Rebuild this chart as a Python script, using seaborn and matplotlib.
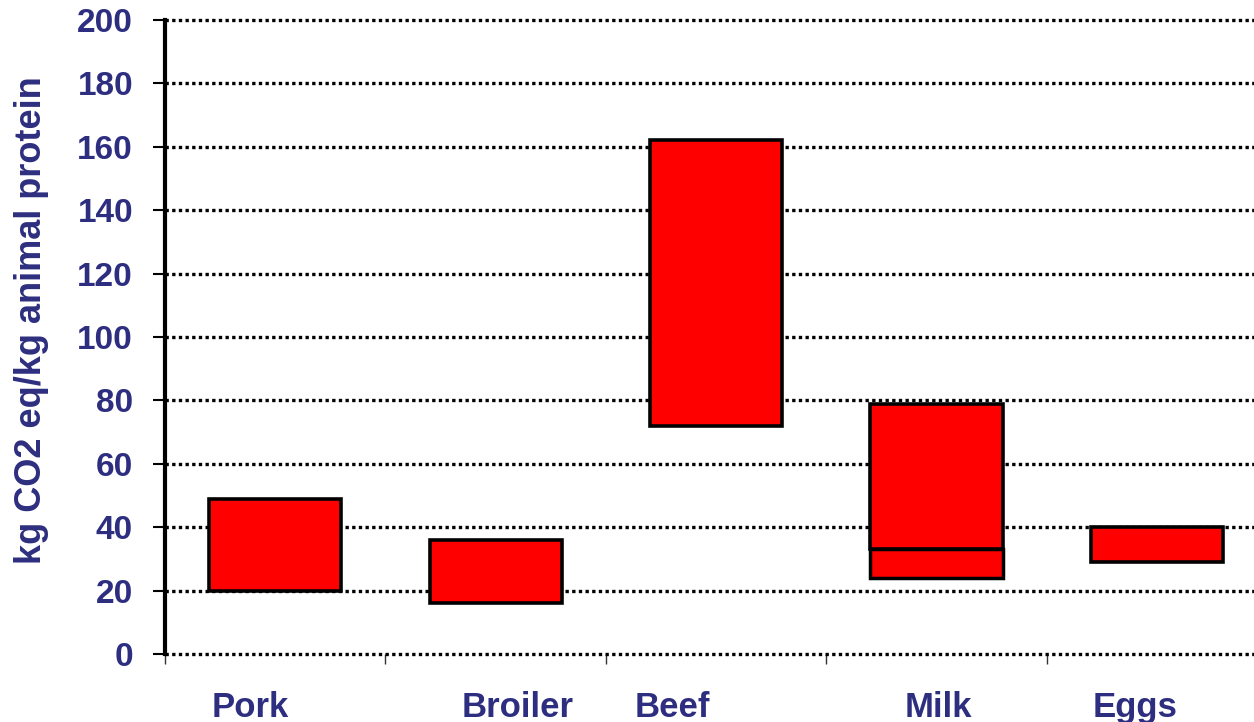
import matplotlib
matplotlib.use("Agg")
import matplotlib.pyplot as plt
import seaborn as sns

# data
categories = ["Pork", "Broiler", "Beef", "Milk", "Eggs"]
low = [20, 16, 72, 33, 29]
high = [49, 36, 162, 79, 40]
milk_low = [24]
milk_high = [33]
yticks = list(range(0, 201, 20))
label_pos = [-0.115, 1.10, 1.80, 3.01, 3.90]

navy = "#2E2E80"

sns.set_theme(style="white")
plt.rcParams['font.family'] = ['Liberation Sans', 'DejaVu Sans']

fig = plt.figure(figsize=(12.54, 7.22), dpi=100)
ax = fig.add_axes([0.1316, 0.0942, 0.8684, 0.8781])

# lower part of the milk range first, then the main ranges on top
sns.barplot(x=["Milk"], y=[h - l for l, h in zip(milk_low, milk_high)], bottom=milk_low,
            order=categories, color="#FF0000", saturation=1, width=0.6,
            edgecolor="black", linewidth=2.5, errorbar=None, ax=ax, zorder=2)
sns.barplot(x=categories, y=[h - l for l, h in zip(low, high)], bottom=low,
            order=categories, color="#FF0000", saturation=1, width=0.6,
            edgecolor="black", linewidth=2.6, errorbar=None, ax=ax, zorder=3)

ax.set_xlim(-0.5, 4.44)
ax.set_ylim(0, 200)
ax.set_yticks(yticks)
ax.set_yticklabels([str(v) for v in yticks], fontsize=24, fontweight="bold", color=navy)

ax.set_xticks(label_pos)
ax.set_xticklabels(categories, fontsize=25, fontweight="bold", color=navy)
ax.set_xticks([-0.5, 0.5, 1.5, 2.5, 3.5], minor=True)
ax.tick_params(axis="x", which="major", length=0, pad=27)
ax.tick_params(axis="x", which="minor", length=7, width=1, color="#333333", direction="out", bottom=True)
ax.tick_params(axis="y", which="major", length=9, width=1.5, color="black", direction="out", left=True, pad=14)

ax.set_ylabel("kg CO2 eq/kg animal protein", fontsize=26, fontweight="bold", color=navy)
ax.yaxis.set_label_coords(-0.107, 0.527)
ax.set_xlabel("")

ax.set_axisbelow(True)
ax.yaxis.grid(True, color="black", linestyle=(0, (1, 1)), linewidth=2.4)
ax.xaxis.grid(False)
for gl in ax.get_ygridlines():
    gl.set_clip_on(False)

for s in ["top", "right", "bottom"]:
    ax.spines[s].set_visible(False)
ax.spines["left"].set_color("black")
ax.spines["left"].set_linewidth(3)

fig.savefig("out.png", dpi=100)
